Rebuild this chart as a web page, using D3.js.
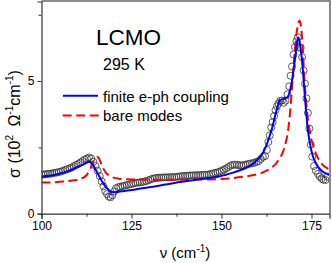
<!DOCTYPE html>
<html><head><meta charset="utf-8">
<script src="https://cdn.jsdelivr.net/npm/d3@7"></script>
<style>
html,body{margin:0;padding:0;background:#fff;}
svg{display:block;font-family:"Liberation Sans",Arial,sans-serif;}
</style></head>
<body>
<svg id="c" width="332" height="263"></svg>
<script>
// Measured optical conductivity (open circles)
const dataFreq = [100.0,100.6,101.2,101.8,102.4,103.0,103.6,104.2,104.8,105.4,106.0,106.6,107.2,107.8,108.4,109.0,109.6,110.2,110.8,111.4,112.0,112.6,113.2,113.8,114.4,115.0,115.6,116.2,116.7,117.2,117.7,118.2,118.7,119.2,119.7,120.2,120.7,121.3,121.9,122.5,123.1,123.7,124.3,124.9,125.5,126.1,126.7,127.3,127.9,128.5,129.1,129.7,130.3,130.9,131.5,132.1,132.7,133.3,133.9,134.5,135.1,135.7,136.3,136.9,137.5,138.1,138.7,139.3,139.9,140.5,141.1,141.7,142.3,142.9,143.5,144.1,144.7,145.3,145.9,146.5,147.1,147.7,148.3,148.9,149.5,150.1,150.7,151.3,151.9,152.5,153.1,153.7,154.3,154.9,155.5,156.1,156.7,157.3,157.9,158.5,159.1,159.7,160.3,160.9,161.5,162.1,162.6,163.0,163.4,163.8,164.2,164.6,165.0,165.4,165.8,166.3,166.8,167.3,167.8,168.3,168.8,169.2,169.6,170.0,170.4,170.8,171.2,171.6,172.0,172.4,172.8,173.2,173.6,174.0,174.4,174.8,175.2,175.7,176.2,176.8,177.3,177.8,178.3,178.9,179.5];
const dataSigma = [1.47,1.48,1.49,1.50,1.51,1.52,1.54,1.55,1.57,1.59,1.62,1.65,1.68,1.71,1.74,1.79,1.84,1.88,1.93,1.98,2.04,2.08,2.12,2.08,1.96,1.80,1.62,1.42,1.22,1.03,0.86,0.74,0.64,0.62,0.70,0.84,0.96,1.00,1.02,1.04,1.06,1.08,1.10,1.12,1.14,1.16,1.17,1.18,1.19,1.21,1.23,1.26,1.29,1.32,1.34,1.35,1.36,1.36,1.37,1.37,1.37,1.38,1.38,1.38,1.39,1.40,1.41,1.42,1.43,1.43,1.44,1.44,1.45,1.45,1.45,1.46,1.46,1.47,1.47,1.48,1.50,1.52,1.54,1.56,1.59,1.62,1.66,1.71,1.76,1.81,1.84,1.85,1.84,1.83,1.82,1.83,1.85,1.87,1.89,1.90,1.92,1.95,1.98,2.06,2.14,2.17,2.40,2.70,2.95,3.25,3.45,3.68,3.90,4.05,4.15,4.25,4.27,4.18,4.26,4.50,4.80,5.20,5.55,6.00,6.28,6.50,6.65,6.28,6.25,5.90,5.40,4.90,4.35,3.80,3.21,2.60,2.15,1.80,1.62,1.50,1.40,1.33,1.28,1.27,1.40];

// Fit with finite e-ph coupling (blue solid)
const fitFreq = [100,102,104,106,108,110,111.5,112.5,113.2,113.8,114.5,115.2,116,116.8,117.6,118.4,119.2,120,121,123,125,128,131,134,137,140,143,146,149,151,153,155,157,158.5,159.5,160.5,161.5,162.4,163.3,164.2,165,165.6,166.2,167,168,168.6,169.2,169.7,170.2,170.7,171.1,171.3,171.6,172,172.5,173,173.5,174,174.5,175.3,176.2,177.1,178,179,180];
const fitSigma = [1.40,1.43,1.48,1.55,1.64,1.76,1.85,1.92,1.96,1.93,1.80,1.62,1.42,1.22,1.06,0.93,0.84,0.81,0.82,0.86,0.89,0.96,1.02,1.09,1.16,1.22,1.28,1.33,1.39,1.46,1.54,1.63,1.74,1.86,1.97,2.10,2.30,2.55,2.90,3.30,3.75,4.05,4.28,4.32,4.36,4.45,4.75,5.10,5.60,6.15,6.55,6.65,6.55,6.20,5.60,4.70,3.85,3.15,2.70,2.20,1.90,1.72,1.60,1.52,1.46];

// Bare modes (red dashed)
const bareFreq = [100,102,104,106,108,110,111.5,112.5,113.3,114,114.7,115.4,115.9,116.5,117.2,118,119,120,121.5,123,126,130,135,140,145,150,153,156,159,161,162.5,164,165.2,166.2,167,167.8,168.4,169,169.4,169.8,170.3,170.8,171.3,171.7,172.1,172.5,173,173.4,173.8,174.3,174.8,175.5,176.3,177.2,178.3,179.4,180];
const bareSigma = [1.18,1.18,1.19,1.21,1.24,1.28,1.35,1.45,1.62,1.85,2.05,2.14,2.10,1.92,1.70,1.53,1.42,1.36,1.32,1.30,1.29,1.28,1.28,1.28,1.29,1.31,1.34,1.39,1.46,1.53,1.62,1.75,1.90,2.10,2.30,2.65,3.05,3.75,4.40,5.20,6.05,6.75,7.15,7.28,7.05,6.40,5.15,4.40,3.80,3.30,2.90,2.55,2.25,2.00,1.82,1.71,1.66];

const xMajorTicks = [100,125,150,175];
const xMinorTicks = [112.5,137.5,162.5];
const yMajorTicks = [0,5];
const yMinorTicks = [2.5,7.5];
const legendLabels = ["finite e-ph coupling","bare modes"];

const svg = d3.select("#c");
const L = 41.5, R = 329.5, T = 1.5, B = 213.7;
const x = d3.scaleLinear().domain([100,180]).range([L,R]);
const y = d3.scaleLinear().domain([0,8]).range([B,T]);

svg.append("defs").append("clipPath").attr("id","clip")
  .append("rect").attr("x",L).attr("y",T).attr("width",R-L).attr("height",B-T);

const plot = svg.append("g").attr("clip-path","url(#clip)");

// circles
const pts = dataFreq.map((f,i)=>[f,dataSigma[i]]);
plot.selectAll("circle").data(pts).enter().append("circle")
  .attr("cx",d=>x(d[0])).attr("cy",d=>y(d[1])).attr("r",3.5)
  .attr("fill","none").attr("stroke","#333").attr("stroke-width",0.8);

const line = d3.line().x(d=>x(d[0])).y(d=>y(d[1])).curve(d3.curveMonotoneX);
plot.append("path").datum(bareFreq.map((f,i)=>[f,bareSigma[i]]))
  .attr("d",line).attr("fill","none").attr("stroke","#ff0000")
  .attr("stroke-width",2).attr("stroke-dasharray","9,4.5");
plot.append("path").datum(fitFreq.map((f,i)=>[f,fitSigma[i]]))
  .attr("d",line).attr("fill","none").attr("stroke","#0000ff")
  .attr("stroke-width",2);

// frame: top and right grey
svg.append("line").attr("x1",L).attr("x2",R+1).attr("y1",1).attr("y2",1)
  .attr("stroke","#8a8a8a").attr("stroke-width",2);
svg.append("line").attr("x1",R+0.5).attr("x2",R+0.5).attr("y1",0).attr("y2",B)
  .attr("stroke","#8a8a8a").attr("stroke-width",2);

// axes
const xAxis = d3.axisBottom(x).tickValues(xMajorTicks).tickSize(5).tickPadding(3).tickFormat(d3.format("d"));
svg.append("g").attr("transform",`translate(0,${B})`).call(xAxis);
const xMinor = d3.axisBottom(x).tickValues(xMinorTicks).tickSize(3).tickFormat("");
svg.append("g").attr("transform",`translate(0,${B})`).call(xMinor).select(".domain").remove();
const yAxis = d3.axisLeft(y).tickValues(yMajorTicks).tickSize(4).tickPadding(3).tickFormat(d3.format("d"));
svg.append("g").attr("transform",`translate(${L},0)`).call(yAxis);
const yMinor = d3.axisLeft(y).tickValues(yMinorTicks).tickSize(3).tickFormat("");
svg.append("g").attr("transform",`translate(${L},0)`).call(yMinor).select(".domain").remove();
svg.selectAll(".domain").attr("stroke","#333").attr("stroke-width",1.2);
svg.selectAll(".tick line").attr("stroke","#333").attr("stroke-width",1);
svg.selectAll(".tick text").attr("font-size",12).attr("font-family","Liberation Sans, Arial, sans-serif").attr("fill","#000");

// axis titles
const xt = svg.append("text").attr("x",185).attr("y",258).attr("text-anchor","middle")
  .attr("font-size",15).attr("fill","#000");
xt.append("tspan").text("ν (cm");
xt.append("tspan").attr("font-size",10).attr("dy",-6).text("-1");
xt.append("tspan").attr("dy",6).text(")");

const yt = svg.append("text").attr("transform","translate(20,124) rotate(-90)")
  .attr("text-anchor","middle").attr("font-size",16).attr("fill","#000");
yt.append("tspan").text("σ (10");
yt.append("tspan").attr("font-size",10).attr("dy",-7).text("2");
yt.append("tspan").attr("dy",7).attr("dx",4).text(" Ω");
yt.append("tspan").attr("font-size",10).attr("dy",-7).text("-1");
yt.append("tspan").attr("dy",7).text("cm");
yt.append("tspan").attr("font-size",10).attr("dy",-7).text("-1");
yt.append("tspan").attr("dy",7).text(")");

// annotations
svg.append("text").attr("x",96).attr("y",45).attr("font-size",22.5).attr("fill","#000").text("LCMO");
svg.append("text").attr("x",103).attr("y",70).attr("font-size",16).attr("fill","#000").text("295 K");

// legend
svg.append("line").attr("x1",63).attr("x2",98).attr("y1",95.7).attr("y2",95.7)
  .attr("stroke","#0000ff").attr("stroke-width",2);
svg.append("text").attr("x",103).attr("y",101.5).attr("font-size",15).attr("fill","#000").text(legendLabels[0]);
svg.append("line").attr("x1",62.7).attr("x2",100).attr("y1",115.5).attr("y2",115.5)
  .attr("stroke","#ff0000").attr("stroke-width",2).attr("stroke-dasharray","9,4.5");
svg.append("text").attr("x",103).attr("y",121).attr("font-size",15).attr("fill","#000").text(legendLabels[1]);
</script>
</body></html>
